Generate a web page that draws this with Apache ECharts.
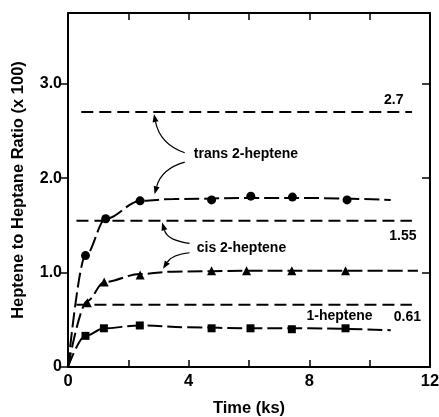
<!DOCTYPE html>
<html><head><meta charset="utf-8">
<script src="https://cdn.jsdelivr.net/npm/echarts@6/dist/echarts.min.js"></script>
<style>html,body{margin:0;padding:0;background:#fff}#c{width:439px;height:417px}</style>
</head><body><div id="c"></div>
<script>
// ---- data ----
const transT = [0.58, 1.25, 2.39, 4.76, 6.06, 7.44, 9.25];
const transV = [1.18, 1.57, 1.76, 1.77, 1.81, 1.80, 1.77];
const cisT   = [0.64, 1.20, 2.39, 4.76, 5.92, 7.42, 9.20];
const cisV   = [0.68, 0.90, 0.975, 1.02, 1.02, 1.02, 1.02];
const oneT   = [0.58, 1.19, 2.38, 4.76, 6.05, 7.42, 9.20];
const oneV   = [0.33, 0.41, 0.44, 0.41, 0.41, 0.40, 0.41];

// fitted curves
const transCurveT = [0, 0.58, 1.25, 2.39, 3.5, 6.0, 8.0, 10.7];
const transCurveV = [0, 1.18, 1.57, 1.76, 1.78, 1.79, 1.79, 1.77];
const cisCurveT   = [0, 0.64, 1.20, 2.39, 3.5, 6.0, 9.0, 11.6];
const cisCurveV   = [0, 0.70, 0.90, 0.985, 1.01, 1.02, 1.02, 1.02];
const oneCurveT   = [0, 0.58, 1.19, 2.38, 4.0, 6.0, 8.0, 10.7];
const oneCurveV   = [0, 0.33, 0.41, 0.44, 0.42, 0.41, 0.41, 0.39];

// equilibrium (dashed) lines
const eqLevels = [2.70, 1.55, 0.66];
const eqStart  = [0.44, 0.28, 0.28];
const eqEnd    = [11.4, 11.4, 11.4];

const xTicks = [0, 4, 8, 12];
const yTicks = [0, 1, 2, 3];

const zip = (a, b) => a.map((v, i) => [v, b[i]]);
const F = '"Liberation Sans", Arial, sans-serif';

const chart = echarts.init(document.getElementById('c'));
const curveStyle = {color: '#000', width: 2, type: [15, 5]};
const series = [];
eqLevels.forEach((lv, i) => {
  series.push({type: 'line', data: [[eqStart[i], lv], [eqEnd[i], lv]], symbol: 'none',
    lineStyle: {color: '#000', width: 2, type: [12, 6]}, silent: true, z: 2});
});
[[transCurveT, transCurveV], [cisCurveT, cisCurveV], [oneCurveT, oneCurveV]].forEach(([t, v]) => {
  series.push({type: 'line', data: zip(t, v), smooth: 0.35, smoothMonotone: 'x', symbol: 'none',
    lineStyle: curveStyle, silent: true, z: 3});
});
const mk = {color: '#000', opacity: 1};
series.push({type: 'scatter', data: zip(transT, transV), symbol: 'circle', symbolSize: 9, itemStyle: mk, z: 5});
series.push({type: 'scatter', data: zip(cisT, cisV), symbol: 'triangle', symbolSize: 9, itemStyle: mk, z: 5});
series.push({type: 'scatter', data: zip(oneT, oneV), symbol: 'rect', symbolSize: 8, itemStyle: mk, z: 5});

const axisLine = {show: true, onZero: false, lineStyle: {color: '#000', width: 2}};
chart.setOption({
  animation: false,
  grid: {left: 68, right: 9, top: 13, bottom: 50, containLabel: false, outerBoundsMode: 'none'},
  xAxis: [{
    type: 'value', min: 0, max: 12, interval: 2,
    name: 'Time (ks)', nameLocation: 'middle', nameGap: 33,
    nameTextStyle: {fontFamily: F, fontWeight: 'bold', fontSize: 16.5, color: '#000'},
    axisLine, splitLine: {show: false},
    axisTick: {inside: true, length: 7, lineStyle: {color: '#000', width: 1.5}},
    axisLabel: {fontFamily: F, fontWeight: 'bold', fontSize: 16.5, color: '#000', margin: 6,
      formatter: v => xTicks.includes(v) ? String(v) : ''}
  }, {
    type: 'value', position: 'top', min: 0, max: 12, interval: 2,
    axisLine, splitLine: {show: false}, axisLabel: {show: false},
    axisTick: {inside: true, length: 7, lineStyle: {color: '#000', width: 1.5}}
  }],
  yAxis: [{
    type: 'value', min: 0, max: 3.75, interval: 1,
    name: 'Heptene to Heptane Ratio (x 100)', nameLocation: 'middle', nameGap: 41, nameRotate: 90,
    nameTextStyle: {fontFamily: F, fontWeight: 'bold', fontSize: 16.5, color: '#000'},
    axisLine, splitLine: {show: false},
    axisTick: {inside: false, length: 8, lineStyle: {color: '#000', width: 1.5}},
    axisLabel: {fontFamily: F, fontWeight: 'bold', fontSize: 16, color: '#000', margin: 6,
      formatter: v => yTicks.includes(v) ? (v === 0 ? '0' : v.toFixed(1)) : '', showMaxLabel: false}
  }, {
    type: 'value', position: 'right', min: 0, max: 3.75, interval: 1,
    axisLine, splitLine: {show: false}, axisLabel: {show: false},
    axisTick: {inside: true, length: 8, lineStyle: {color: '#000', width: 1.5}}
  }],
  series
});

// ---- annotations (anchored in data coordinates) ----
const texts = [
  {t: 'trans 2-heptene', x: 5.9, y: 2.25, align: 'center'},
  {t: 'cis 2-heptene',   x: 5.75, y: 1.26, align: 'center'},
  {t: '2.7',   x: 10.8, y: 2.83, align: 'center'},
  {t: '1.55',  x: 11.1, y: 1.39, align: 'center'},
  {t: '1-heptene', x: 9.0, y: 0.54, align: 'center'},
  {t: '0.61',  x: 11.25, y: 0.53, align: 'center'}
];
const arrows = [
  {s: [3.87, 2.27], c: [3.05, 2.36], e: [2.85, 2.68]},
  {s: [3.87, 2.17], c: [3.10, 2.10], e: [2.87, 1.83]},
  {s: [4.03, 1.31], c: [3.30, 1.34], e: [3.12, 1.53]},
  {s: [4.03, 1.21], c: [3.45, 1.19], e: [3.15, 1.04]}
];
const px = p => chart.convertToPixel({gridIndex: 0}, p);
const g = [];
texts.forEach(o => {
  const p = px([o.x, o.y]);
  g.push({type: 'text', x: p[0], y: p[1], style: {text: o.t, fill: '#000', font: 'bold 14px ' + F,
    textAlign: o.align, textVerticalAlign: 'middle'}, z: 10});
});
arrows.forEach(a => {
  const s = px(a.s), c = px(a.c), e = px(a.e);
  const dx = e[0] - c[0], dy = e[1] - c[1], L = Math.hypot(dx, dy);
  const ux = dx / L, uy = dy / L, len = 8, w = 3;
  const bx = e[0] - ux * len, by = e[1] - uy * len;
  g.push({type: 'bezierCurve', shape: {x1: s[0], y1: s[1], cpx1: c[0], cpy1: c[1], x2: bx, y2: by},
    style: {stroke: '#000', lineWidth: 1.2, fill: null}, z: 10});
  g.push({type: 'polygon', shape: {points: [e, [bx - uy * w, by + ux * w], [bx + uy * w, by - ux * w]]},
    style: {fill: '#000'}, z: 10});
});
chart.setOption({graphic: g});
</script></body></html>
